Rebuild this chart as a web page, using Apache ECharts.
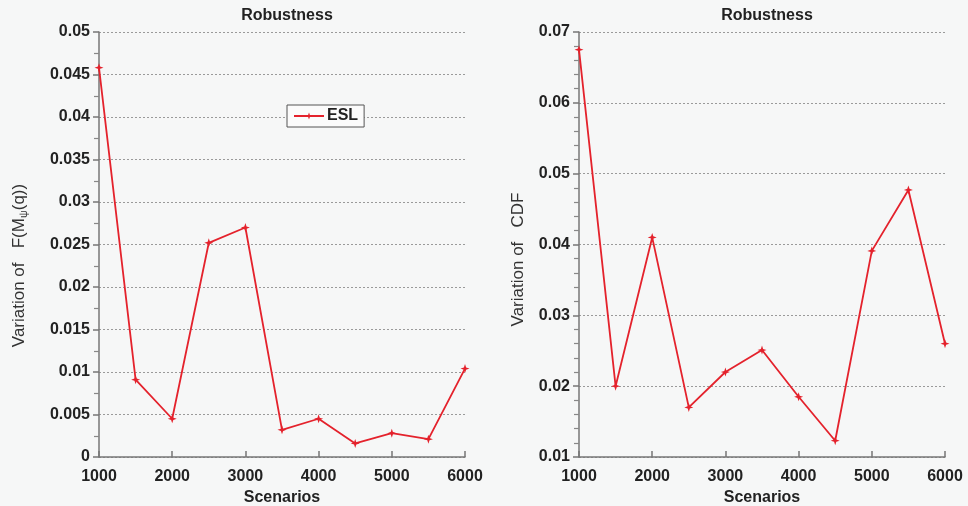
<!DOCTYPE html>
<html>
<head>
<meta charset="utf-8">
<script src="https://cdn.jsdelivr.net/npm/echarts@6/dist/echarts.min.js"></script>
<style>html,body{margin:0;padding:0;background:#f6f7f7}#c{width:968px;height:506px}</style>
</head>
<body>
<div id="c"></div>
<script>
const scenarios = [1000,1500,2000,2500,3000,3500,4000,4500,5000,5500,6000];
const eslValues = [0.0458,0.0091,0.0045,0.0252,0.0270,0.0032,0.0045,0.0016,0.0028,0.0021,0.0104];
const cdfValues = [0.0675,0.0200,0.0410,0.0170,0.0220,0.0251,0.0185,0.0123,0.0391,0.0477,0.0260];
const leftTitle = 'Robustness';
const rightTitle = 'Robustness';
const xName = 'Scenarios';

const RED = '#e4222c';
const FONT = "'Liberation Sans', Arial, sans-serif";
const star = 'path://M0,-10 L2.5,-2.5 L10,0 L2.5,2.5 L0,10 L-2.5,2.5 L-10,0 L-2.5,-2.5Z';
const fmt = v => String(parseFloat(v.toFixed(4)));

function xAxis(idx){
  return {
    gridIndex: idx, type:'value', min:1000, max:6000, interval:1000,
    name: xName, nameLocation:'middle', nameGap:31,
    nameTextStyle:{fontFamily:FONT, fontSize:16, fontWeight:'bold', color:'#222'},
    axisLine:{lineStyle:{color:'#777', width:1.5}},
    axisTick:{show:true, inside:true, length:6, lineStyle:{color:'#777', width:1.5}},
    axisLabel:{fontFamily:FONT, fontSize:16, fontWeight:'bold', color:'#222', margin:12, formatter:v=>String(v)},
    splitLine:{show:false}
  };
}
function yAxis(idx, min, max, interval, minorSplit, name, namePad, gap){
  return {
    gridIndex: idx, type:'value', min:min, max:max, interval:interval,
    name: name, nameLocation:'middle', nameGap: gap, nameRotate:90,
    nameTextStyle:{fontFamily:FONT, fontSize:17, color:'#333', padding:namePad,
      rich:{sub:{fontFamily:FONT, fontSize:11, color:'#333', verticalAlign:'bottom', padding:[8,0,0,0]}}},
    axisLine:{show:true, lineStyle:{color:'#777', width:1.5}},
    axisTick:{show:true, inside:false, length:6, lineStyle:{color:'#777', width:1.5}},
    minorTick:{show:true, splitNumber:minorSplit, length:5, lineStyle:{color:'#888', width:1.2}},
    axisLabel:{fontFamily:FONT, fontSize:16, fontWeight:'bold', color:'#222', margin:9, formatter:fmt},
    splitLine:{show:true, lineStyle:{type:[2,2], color:'#9a9a9a', width:1}}
  };
}
function series(name, vals, xi, yi){
  return {
    name:name, type:'line', xAxisIndex:xi, yAxisIndex:yi,
    data: scenarios.map((s,i)=>[s, vals[i]]),
    symbol: star, symbolSize: 9, showSymbol:true,
    lineStyle:{color:RED, width:1.8}, itemStyle:{color:RED},
    animation:false
  };
}

const chart = echarts.init(document.getElementById('c'));
chart.setOption({
  backgroundColor:'#f6f7f7',
  animation:false,
  title:[
    {text:leftTitle, left:282, top:3, textAlign:'center', textStyle:{fontFamily:FONT, fontSize:16, fontWeight:'bold', color:'#222'}},
    {text:rightTitle, left:762, top:3, textAlign:'center', textStyle:{fontFamily:FONT, fontSize:16, fontWeight:'bold', color:'#222'}}
  ],
  legend:{
    data:['ESL'], left:287, top:105, orient:'horizontal',
    backgroundColor:'#fbfbfb', borderColor:'#555', borderWidth:1, borderRadius:0,
    padding:[3,6,3,6], itemWidth:30, itemHeight:9, itemGap:4,
    textStyle:{fontFamily:FONT, fontSize:16, fontWeight:'bold', color:'#222', padding:[0,0,0,-2]}
  },
  grid:[
    {left:99, right:503, top:32, bottom:49, containLabel:false, outerBoundsMode:'none'},
    {left:579, right:23, top:32, bottom:49, containLabel:false, outerBoundsMode:'none'}
  ],
  xAxis:[xAxis(0), xAxis(1)],
  yAxis:[
    yAxis(0, 0, 0.05, 0.005, 2, 'Variation of   F(M{sub|ψ}(q))', [0,42,0,0], 70),
    yAxis(1, 0.01, 0.07, 0.01, 5, 'Variation of   CDF', [0,30,0,0], 52)
  ],
  series:[
    series('ESL', eslValues, 0, 0),
    series('CDF', cdfValues, 1, 1)
  ]
});
</script>
</body>
</html>
